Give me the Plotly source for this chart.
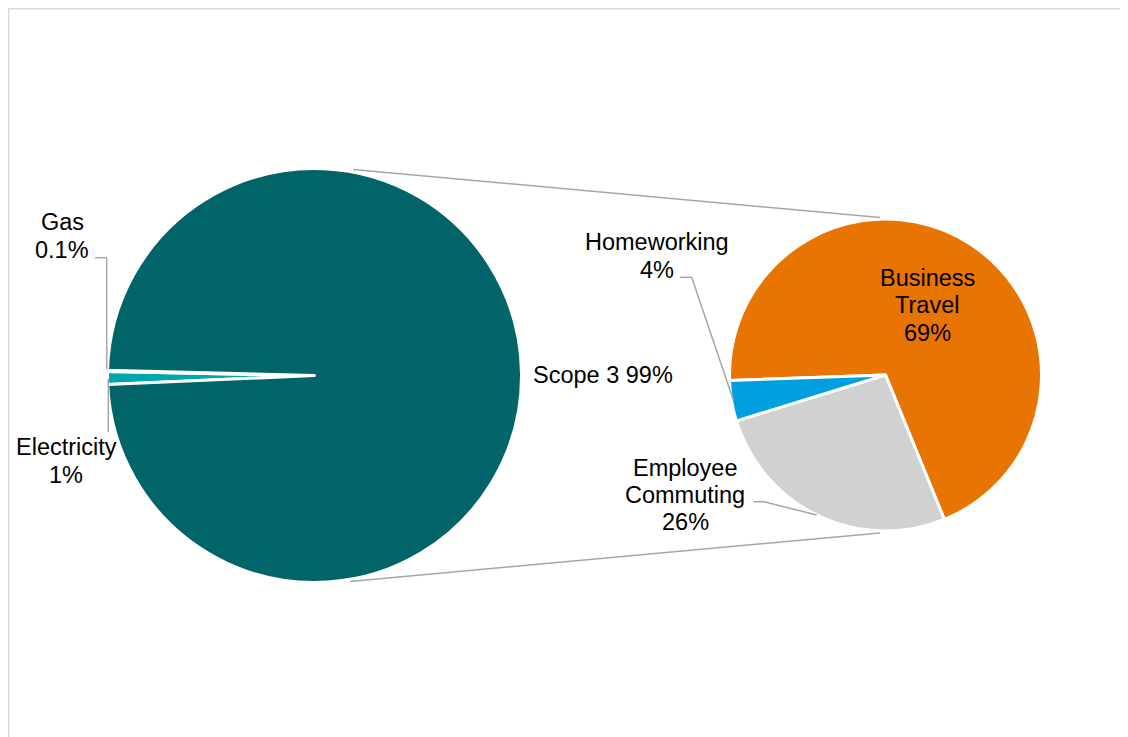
import plotly.graph_objects as go

W, H = 1128, 737
OFF = 8  # page body margin

# ---- data ----
primary_labels = ["Electricity", "Gas", "Scope 3"]
primary_values = [1.0, 0.1, 98.9]
primary_text = ["1%", "0.1%", "99%"]

secondary_labels = ["Business Travel", "Employee Commuting", "Homeworking"]
secondary_values = [69.4, 26.4, 4.2]
secondary_text = ["69%", "26%", "4%"]

primary_colors = ["#00A5B0", "#FFFFFF", "#006469"]
secondary_colors = ["#E87502", "#D0D2D1", "#009FDF"]

FONT = "Liberation Sans, Arial, sans-serif"
FS = 23.5


def px(x):
    return (x - OFF) / W


def py(y):
    return (H - (y - OFF)) / H


def dom(cx, cy, r):
    return dict(x=[px(cx - r), px(cx + r)], y=[py(cy + r), py(cy - r)])


fig = go.Figure()
fig.add_trace(go.Pie(
    labels=primary_labels, values=primary_values, sort=False,
    direction="clockwise", rotation=267.5,
    marker=dict(colors=primary_colors, line=dict(color="white", width=3)),
    textinfo="none", domain=dom(314.5, 375.5, 207), showlegend=False,
))
fig.add_trace(go.Pie(
    labels=secondary_labels, values=secondary_values, sort=False,
    direction="clockwise", rotation=268,
    marker=dict(colors=secondary_colors, line=dict(color="white", width=3)),
    textinfo="none", domain=dom(885.5, 375, 156), showlegend=False,
))

shapes = []
line_col = "#A6A6A6"


def seg(x0, y0, x1, y1, color=line_col, w=1.5):
    shapes.append(dict(type="line", xref="paper", yref="paper",
                       x0=px(x0), y0=py(y0), x1=px(x1), y1=py(y1),
                       line=dict(color=color, width=w)))


# border at the paper edge
shapes.append(dict(type="rect", xref="paper", yref="paper",
                   x0=0.7 / W, y0=0, x1=1, y1=1 - 0.7 / H,
                   line=dict(color="#D9D9D9", width=1.5), layer="below"))
# connectors between pies
seg(353, 169.5, 880, 217.5)
seg(350, 581.5, 880, 533)
# leader lines
seg(95, 257.7, 106.7, 257.7)
seg(106.7, 257.7, 106.7, 369)
seg(108.3, 379, 108.3, 432)
seg(680, 277.3, 691.7, 277.3)
seg(691.7, 277.3, 733.3, 400)
seg(753.3, 501.7, 764, 501.7)
seg(764, 501.7, 816.7, 515)

annotations = []


def lab(x, y, t):
    annotations.append(dict(x=px(x), y=py(y), xref="paper", yref="paper",
                            text=t, showarrow=False, xanchor="center",
                            yanchor="middle",
                            font=dict(family=FONT, size=FS, color="#000000")))


lab(62, 222, primary_labels[1])
lab(62, 250, primary_text[1])
lab(66, 447, primary_labels[0])
lab(66, 475, primary_text[0])
lab(603, 375, primary_labels[2] + " " + primary_text[2])
lab(657, 242, "Homeworking")
lab(657, 270, secondary_text[2])
lab(685, 468, "Employee")
lab(685, 495, "Commuting")
lab(685, 522, secondary_text[1])
lab(927, 278, "Business")
lab(927, 305, "Travel")
lab(927, 333, secondary_text[0])

fig.update_layout(
    width=W, height=H, autosize=False,
    margin=dict(l=0, r=0, t=0, b=0),
    paper_bgcolor="white", plot_bgcolor="white",
    shapes=shapes, annotations=annotations,
)

fig.write_html("out.html")
